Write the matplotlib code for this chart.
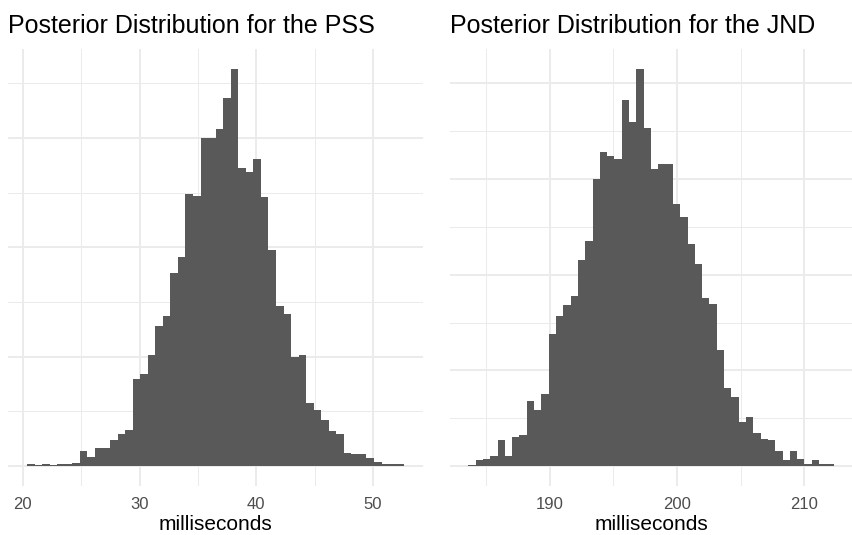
import matplotlib.pyplot as plt
from matplotlib.ticker import MultipleLocator
import numpy as np

plt.rcParams['font.family'] = ['Liberation Sans', 'DejaVu Sans']

# histogram counts (50 bins each) and the bin range
pss_counts = [2, 1, 2, 1, 2, 2, 3, 14, 8, 17,
              17, 24, 29, 33, 80, 84, 102, 128, 137, 177,
              191, 249, 247, 300, 300, 308, 337, 363, 273, 269,
              281, 246, 198, 146, 139, 100, 102, 58, 51, 42,
              32, 29, 12, 11, 11, 7, 4, 2, 2, 2]
pss_range = (20.37, 52.68)

jnd_counts = [1, 6, 7, 11, 27, 11, 30, 33, 68, 59,
              75, 138, 157, 168, 178, 215, 235, 300, 328, 324,
              321, 383, 360, 415, 354, 311, 316, 316, 274, 260,
              232, 211, 176, 170, 121, 82, 72, 46, 51, 35,
              28, 27, 16, 6, 16, 7, 2, 6, 2, 2]
jnd_range = (183.61, 212.30)

pss_ticks = [20, 30, 40, 50]
jnd_ticks = [190, 200, 210]

GRID = '#EBEBEB'
BAR = '#595959'


def draw_hist(ax, counts, bin_range, ticks, title):
    edges = np.linspace(bin_range[0], bin_range[1], len(counts) + 1)
    ax.bar(edges[:-1], counts, width=np.diff(edges), align='edge',
           color=BAR, linewidth=0, zorder=2)

    span = bin_range[1] - bin_range[0]
    ax.set_xlim(bin_range[0] - 0.05 * span, bin_range[1] + 0.05 * span)
    top = max(counts)
    ax.set_ylim(-0.05 * top, 1.05 * top)

    ax.set_xticks(ticks)
    ax.xaxis.set_minor_locator(MultipleLocator(5))
    ax.yaxis.set_major_locator(MultipleLocator(100))
    ax.yaxis.set_minor_locator(MultipleLocator(50))
    ax.grid(which='major', color=GRID, linewidth=1.4, zorder=0)
    ax.grid(which='minor', color=GRID, linewidth=0.7, zorder=0)
    ax.set_axisbelow(True)

    ax.tick_params(which='both', length=0)
    ax.tick_params(axis='x', labelsize=12, labelcolor='#4D4D4D', pad=8)
    ax.set_yticklabels([])
    for s in ax.spines.values():
        s.set_visible(False)

    ax.set_xlabel('milliseconds', fontsize=15, labelpad=2)
    ax.set_title(title, loc='left', fontsize=18, pad=11.5)


fig = plt.figure(figsize=(8.53, 5.35), dpi=100)
ax1 = fig.add_axes([8.3 / 853, 49 / 535, (423 - 8.3) / 853, (486 - 49.3) / 535])
ax2 = fig.add_axes([450 / 853, 49 / 535, (852 - 450) / 853, (486 - 49.3) / 535])

draw_hist(ax1, pss_counts, pss_range, pss_ticks, 'Posterior Distribution for the PSS')
draw_hist(ax2, jnd_counts, jnd_range, jnd_ticks, 'Posterior Distribution for the JND')

fig.savefig('out.png', dpi=100)
